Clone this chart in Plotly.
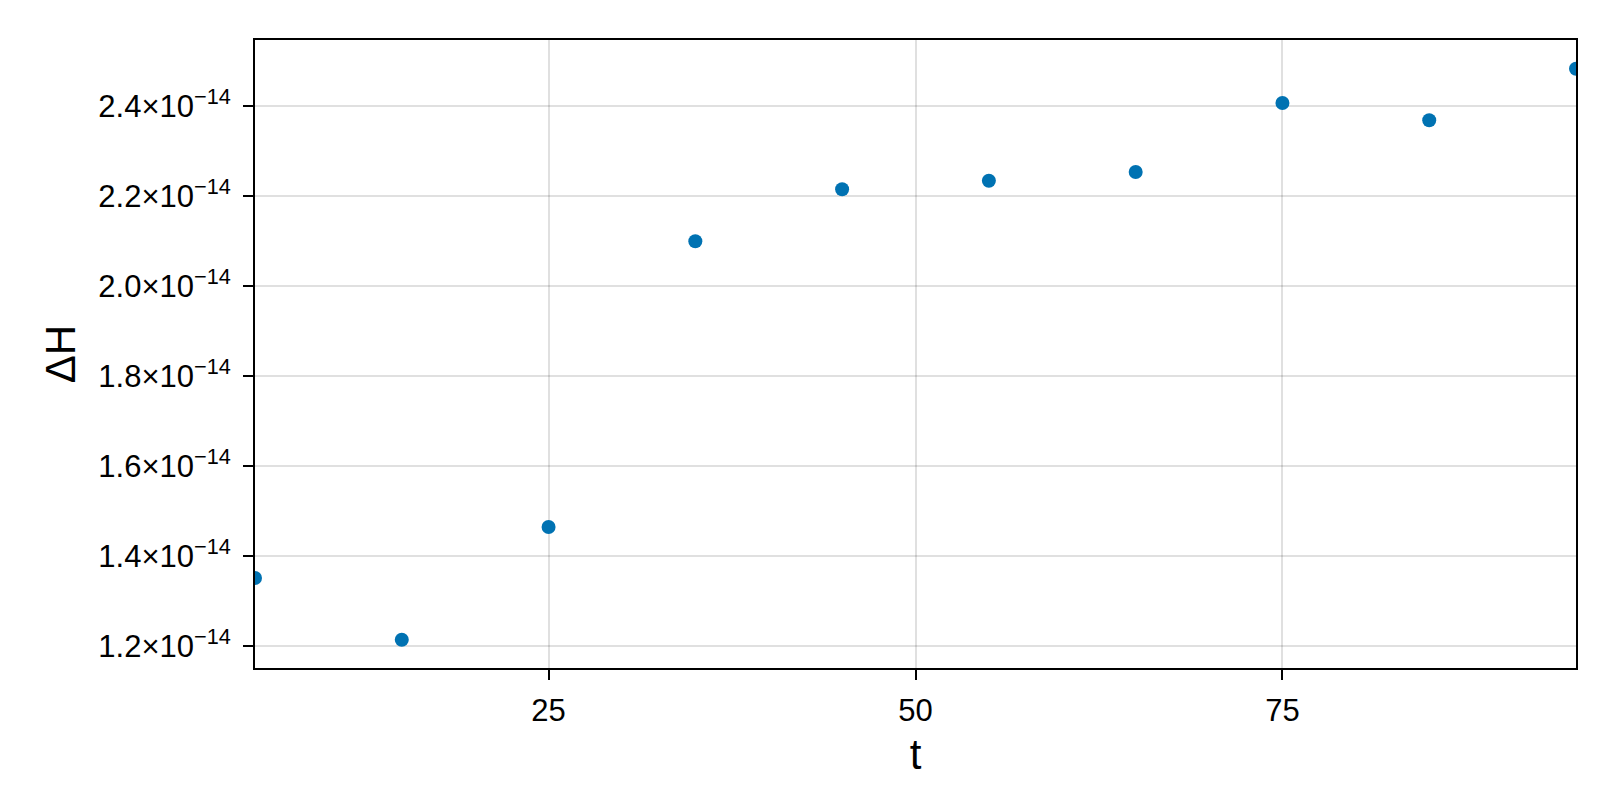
import plotly.graph_objects as go

t = [5, 15, 25, 35, 45, 55, 65, 75, 85, 95]
dH = [1.3504e-14, 1.2133e-14, 1.4638e-14, 2.0987e-14, 2.2142e-14,
      2.2333e-14, 2.2527e-14, 2.4060e-14, 2.3676e-14, 2.4822e-14]

x_ticks = [25, 50, 75]
y_ticks = [1.2e-14, 1.4e-14, 1.6e-14, 1.8e-14, 2.0e-14, 2.2e-14, 2.4e-14]
y_ticklabels = ["1.2×10<sup>−14</sup>", "1.4×10<sup>−14</sup>", "1.6×10<sup>−14</sup>",
                "1.8×10<sup>−14</sup>", "2.0×10<sup>−14</sup>", "2.2×10<sup>−14</sup>",
                "2.4×10<sup>−14</sup>"]

FONT = "Liberation Sans"

fig = go.Figure()
fig.add_trace(go.Scatter(
    x=t, y=dH, mode="markers",
    marker=dict(size=14, color="#0072B2", line=dict(width=0)),
    cliponaxis=True, showlegend=False,
))

axis_common = dict(
    showline=True, linecolor="black", linewidth=2, mirror=True,
    ticks="outside", ticklen=10, tickwidth=2, tickcolor="black",
    showgrid=True, gridcolor="rgba(0,0,0,0.12)", gridwidth=2,
    zeroline=False,
    tickfont=dict(family=FONT, size=31, color="black"),
)

fig.update_layout(
    width=1600, height=800,
    paper_bgcolor="white", plot_bgcolor="white",
    margin=dict(l=247, r=32, t=32, b=140),
    font=dict(family=FONT, color="black"),
    xaxis=dict(
        range=[5, 95], tickvals=x_ticks, ticktext=[str(v) for v in x_ticks],
        title=dict(text="t", font=dict(family=FONT, size=42), standoff=12),
        ticklabelstandoff=4,
        **axis_common,
    ),
    yaxis=dict(
        range=[1.1504e-14, 2.546e-14], tickvals=y_ticks, ticktext=y_ticklabels,
        title=dict(text="ΔH", font=dict(family=FONT, size=42), standoff=10),
        ticklabelstandoff=6,
        **axis_common,
    ),
)

fig.write_html("out.html")
